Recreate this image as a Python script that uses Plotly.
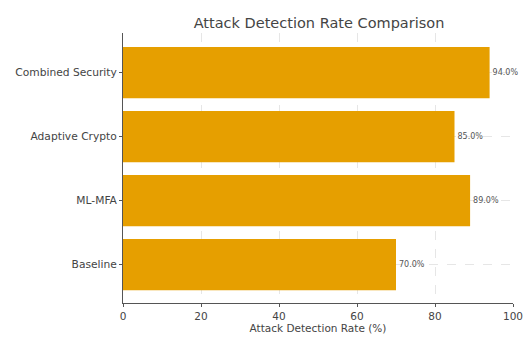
import plotly.graph_objects as go

categories = ["Baseline", "ML-MFA", "Adaptive Crypto", "Combined Security"]
rates = [70.0, 89.0, 85.0, 94.0]
x_ticks = [0, 20, 40, 60, 80, 100]

fig = go.Figure()
fig.add_trace(go.Bar(
    y=categories, x=rates, orientation="h",
    marker=dict(color="#E69F00", line=dict(width=0)),
    width=0.8,
    text=[f"{v:.1f}%" for v in rates],
    textposition="outside",
    textfont=dict(size=8, color="#555555"),
    cliponaxis=False,
))
fig.update_layout(
    width=523, height=338,
    margin=dict(l=123, r=10, t=33, b=35, autoexpand=False),
    plot_bgcolor="white", paper_bgcolor="white",
    font=dict(family="DejaVu Sans", color="#444444", size=10),
    title=dict(text="Attack Detection Rate Comparison", x=0.61, xanchor="center",
               y=0.932, yanchor="middle", font=dict(size=14.5, color="#444444")),
    showlegend=False,
)
fig.update_xaxes(
    range=[0, 100], tickvals=x_ticks, ticks="outside", ticklen=3, tickcolor="#555555",
    showline=True, linecolor="#555555", linewidth=1,
    showgrid=True, gridcolor="#e6e6e6", griddash="dash", gridwidth=0.8,
    zeroline=False, ticklabeloverflow="allow", automargin=False,
    title=dict(text="Attack Detection Rate (%)", font=dict(size=10.5), standoff=2),
    tickfont=dict(size=10.5),
)
fig.update_yaxes(
    range=[-0.6, 3.62], ticks="outside", ticklen=3, tickcolor="#555555",
    showline=True, linecolor="#555555", linewidth=1, automargin=False,
    showgrid=True, gridcolor="#e6e6e6", griddash="dash", gridwidth=0.8,
    tickfont=dict(size=10.7),
)
fig.write_html("out.html")
